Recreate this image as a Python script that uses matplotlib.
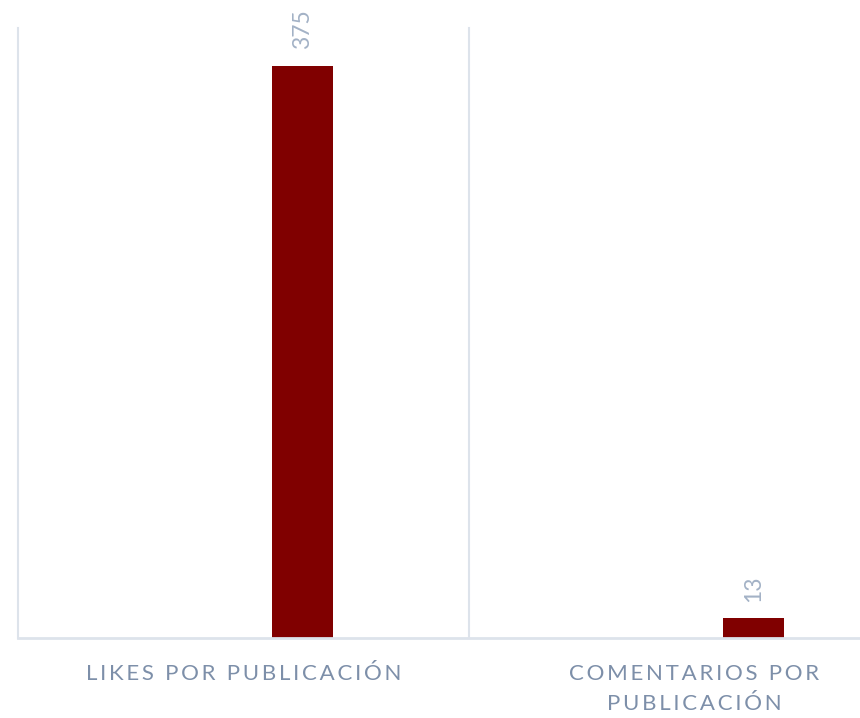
import matplotlib
matplotlib.use("Agg")
import matplotlib.pyplot as plt

categories = ["LIKES POR PUBLICACIÓN", "COMENTARIOS POR\nPUBLICACIÓN"]
values = [375, 13]

W, H = 860, 718
fig = plt.figure(figsize=(W / 100, H / 100), dpi=100)
left, bottom, top = 18, 638, 28
right = 18 + 902
ax = fig.add_axes([left / W, (H - bottom) / H, (right - left) / W, (bottom - top) / H])

bar_color = "#800000"
grid_color = "#dde3eb"
label_color = "#7d8fa9"
data_color = "#a3b2c6"

x = list(range(len(categories)))
offset = 0.13
bars = ax.bar([i + offset for i in x], values, width=0.135, color=bar_color, zorder=3)

ax.set_xlim(-0.5, len(categories) - 0.5)
ax.set_ylim(0, 400)
for b in [-0.5, 0.5, 1.5]:
    ax.axvline(b, color=grid_color, lw=1.5, zorder=1, clip_on=False)
ax.axhline(0, color=grid_color, lw=2, zorder=4, clip_on=False)
for s in ax.spines.values():
    s.set_visible(False)
ax.set_xticks([])
ax.set_yticks([])

font = ["Lato", "DejaVu Sans"]

def spaced(s):
    return "\n".join("\u2009".join(list(line)) for line in s.split("\n"))

for b, v in zip(bars, values):
    ax.annotate(str(v), (b.get_x() + b.get_width() / 2, v), xytext=(0, 12),
                textcoords="offset points", rotation=90, ha="center", va="bottom",
                fontsize=16.5, color=data_color, family=font)

for i, c in enumerate(categories):
    ax.text(i, -17, spaced(c), ha="center", va="top", fontsize=16,
            color=label_color, family=font,
            linespacing=1.6, multialignment="center")

fig.savefig("out.png", dpi=100)
